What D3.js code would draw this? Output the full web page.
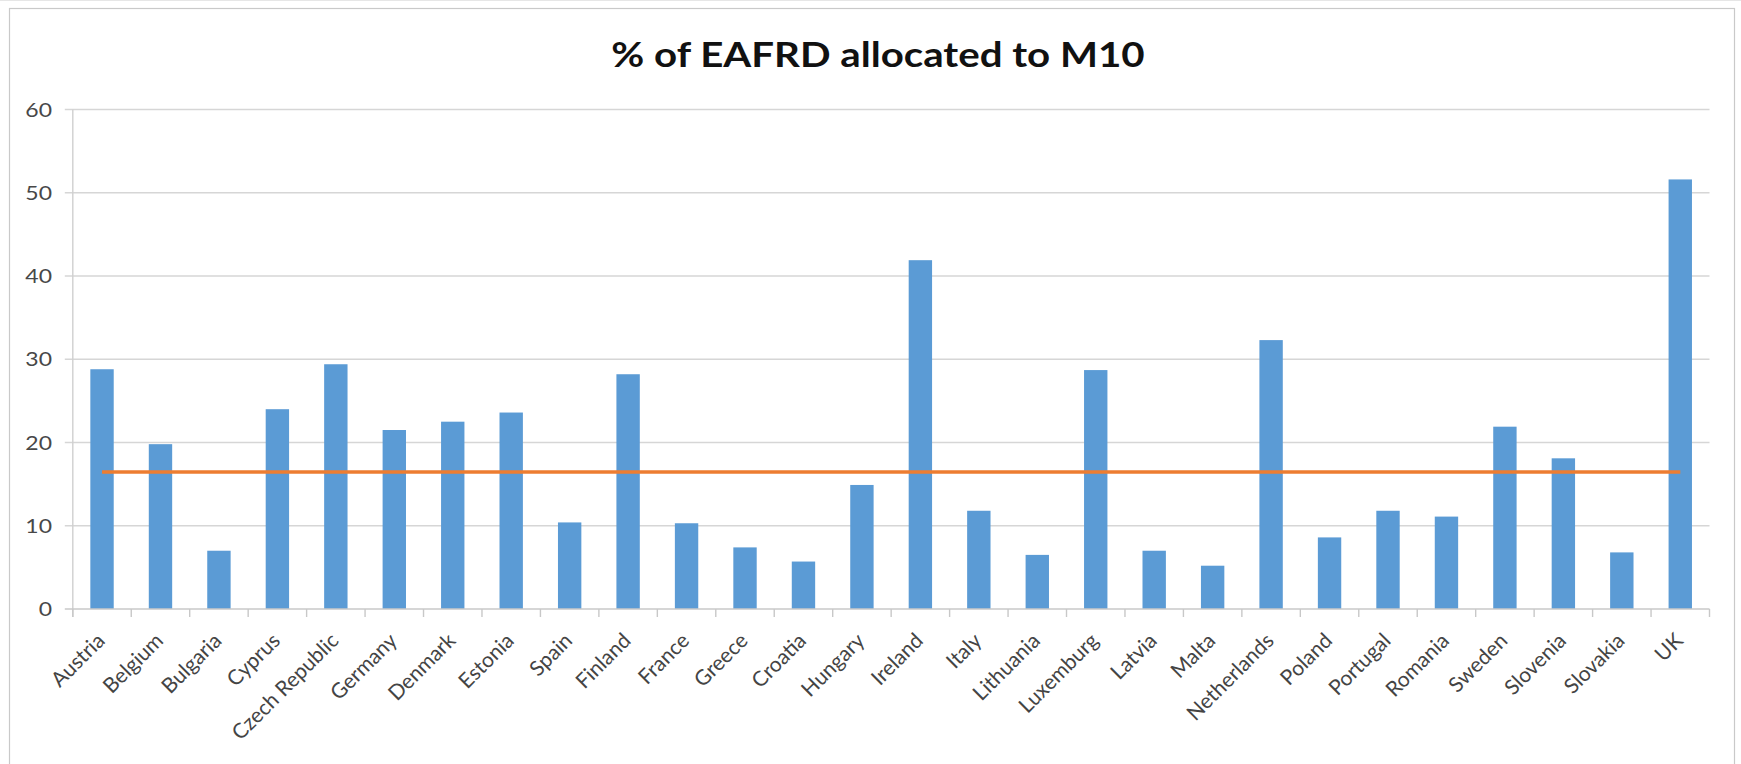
<!DOCTYPE html>
<html>
<head>
<meta charset="utf-8">
<script src="https://cdn.jsdelivr.net/npm/d3@7"></script>
<style>
  html, body { margin: 0; padding: 0; background: #ffffff; }
  svg { display: block; }
</style>
</head>
<body>
<div id="chart"></div>
<script>
// ---- data ----
const chartTitle = "% of EAFRD allocated to M10";
const categories = ["Austria","Belgium","Bulgaria","Cyprus","Czech Republic","Germany","Denmark","Estonia","Spain","Finland","France","Greece","Croatia","Hungary","Ireland","Italy","Lithuania","Luxemburg","Latvia","Malta","Netherlands","Poland","Portugal","Romania","Sweden","Slovenia","Slovakia","UK"];
const shareM10 = [28.8,19.8,7.0,24.0,29.4,21.5,22.5,23.6,10.4,28.2,10.3,7.4,5.7,14.9,41.9,11.8,6.5,28.7,7.0,5.2,32.3,8.6,11.8,11.1,21.9,18.1,6.8,51.6];
const averageLine = [16.45,16.45,16.45,16.45,16.45,16.45,16.45,16.45,16.45,16.45,16.45,16.45,16.45,16.45,16.45,16.45,16.45,16.45,16.45,16.45,16.45,16.45,16.45,16.45,16.45,16.45,16.45,16.45];
const yTicks = [0,10,20,30,40,50,60];

// ---- layout ----
const W = 1741, H = 764;
const plotLeft = 72.8, plotRight = 1709.5, plotTop = 109.5, plotBottom = 609;
const stretch = 1.15;
const font = "Lato, 'Open Sans', 'DejaVu Sans', sans-serif";

const svg = d3.select("#chart").append("svg")
  .attr("width", W).attr("height", H);

svg.append("rect").attr("x",0).attr("y",0).attr("width",W).attr("height",H).attr("fill","#fff");
svg.append("line").attr("x1",0).attr("x2",W).attr("y1",0.5).attr("y2",0.5)
  .attr("stroke","#e6e6e6").attr("stroke-width",1);
svg.append("rect").attr("x",9.5).attr("y",8.5).attr("width",1725).attr("height",800)
  .attr("fill","none").attr("stroke","#c9c9c9").attr("stroke-width",1.2);

const x = d3.scaleBand().domain(categories).range([plotLeft, plotRight])
  .paddingInner(0.6).paddingOuter(0.3);
const y = d3.scaleLinear().domain([0, 60]).range([plotBottom, plotTop]);

// gridlines
svg.append("g").selectAll("line").data(yTicks.filter(t => t > 0)).join("line")
  .attr("x1", plotLeft - 8).attr("x2", plotRight)
  .attr("y1", d => y(d)).attr("y2", d => y(d))
  .attr("stroke", "#d6d6d6").attr("stroke-width", 1.4);

// y axis line
svg.append("line").attr("x1", plotLeft).attr("x2", plotLeft)
  .attr("y1", y(60)).attr("y2", plotBottom + 8)
  .attr("stroke", "#d0d0d0").attr("stroke-width", 1.4);

// y tick labels
svg.append("g").selectAll("text").data(yTicks).join("text")
  .attr("transform", d => `translate(52,${y(d)}) scale(${stretch},1)`)
  .attr("dy", "0.35em")
  .attr("text-anchor", "end")
  .attr("font-family", font).attr("font-size", 20)
  .attr("fill", "#484848")
  .text(d => d);

// bars
svg.append("g").selectAll("rect").data(categories).join("rect")
  .attr("x", d => x(d))
  .attr("y", (d, i) => y(shareM10[i]))
  .attr("width", x.bandwidth())
  .attr("height", (d, i) => y(0) - y(shareM10[i]))
  .attr("fill", "#5B9BD5");

// x axis line and boundary ticks
svg.append("line").attr("x1", plotLeft - 8).attr("x2", plotRight)
  .attr("y1", plotBottom).attr("y2", plotBottom)
  .attr("stroke", "#c8c8c8").attr("stroke-width", 1.4);
const half = x.step() * x.paddingInner() / 2;
const boundaries = categories.map(c => x(c) - half).concat([x(categories[categories.length-1]) - half + x.step()]);
svg.append("g").selectAll("line").data(boundaries).join("line")
  .attr("x1", d => d).attr("x2", d => d)
  .attr("y1", plotBottom).attr("y2", plotBottom + 8)
  .attr("stroke", "#c8c8c8").attr("stroke-width", 1.4);

// average line
const line = d3.line()
  .x((d, i) => x(categories[i]) + x.bandwidth() / 2)
  .y(d => y(d));
svg.append("path").datum(averageLine)
  .attr("d", line)
  .attr("fill", "none").attr("stroke", "#ED7D31").attr("stroke-width", 3.5);

// x labels
svg.append("g").selectAll("text").data(categories).join("text")
  .attr("transform", d => `translate(${x(d) + x.bandwidth()/2 + 4},642) rotate(-45)`)
  .attr("text-anchor", "end")
  .attr("font-family", font).attr("font-size", 21)
  .attr("fill", "#444")
  .text(d => d);

// title
svg.append("text")
  .attr("transform", `translate(878,67) scale(${stretch},1)`)
  .attr("text-anchor", "middle")
  .attr("font-family", font).attr("font-size", 35).attr("font-weight", "bold")
  .attr("fill", "#111")
  .text(chartTitle);
</script>
</body>
</html>
